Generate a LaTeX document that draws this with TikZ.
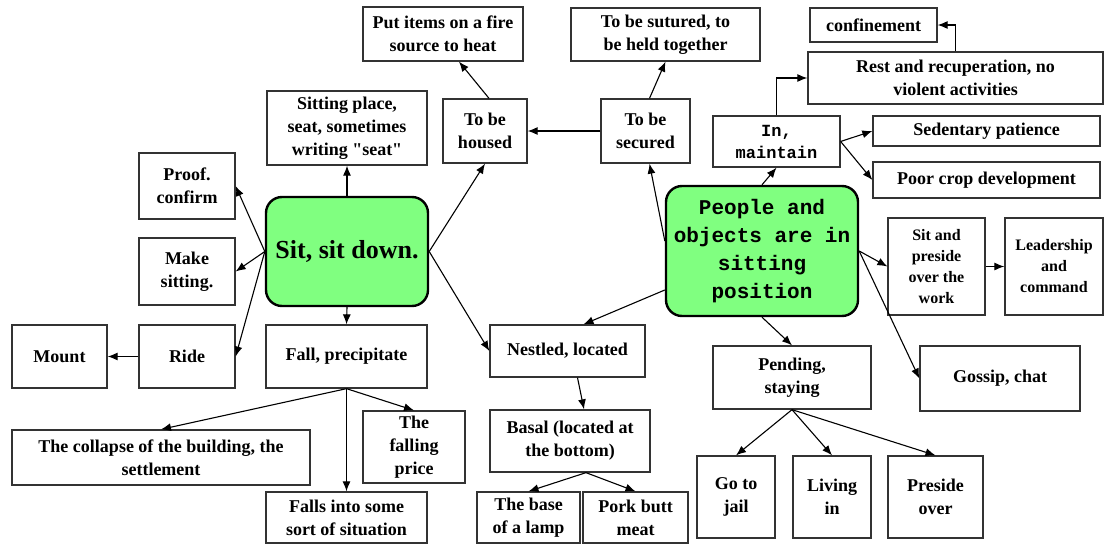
\documentclass[tikz,border=0pt]{standalone}
\usepackage{fontspec}
\setmainfont{Liberation Serif}
\setmonofont{Liberation Mono}
\newfontfamily\plainquote{Liberation Serif}
\usetikzlibrary{arrows.meta}
\definecolor{hubgreen}{HTML}{80FF80}
\tikzset{
  box/.style={draw=black!80, line width=1.3pt, fill=white, inner sep=0pt, align=center,
    font=\bfseries\fontsize{18}{23}\selectfont},
  smallbox/.style={box, font=\bfseries\fontsize{16}{21}\selectfont},
  hub/.style={draw=black, line width=2.4pt, fill=hubgreen, rounded corners=16pt, inner sep=0pt, align=center},
  link/.style={-{Latex[length=10pt,width=8pt]}, line width=1.1pt},
}

\begin{document}
\begin{tikzpicture}[x=1pt, y=-1pt]
			%%%%% START %%%%%
			\useasboundingbox (0, 0) rectangle (1105, 546);
			
			% left hub and its boxes
			\node[hub, minimum width=162pt, minimum height=109pt, font=\bfseries\fontsize{26}{30}\selectfont] (sit) at (347, 251.5) {Sit, sit down.};
			\node[box, minimum width=160pt, minimum height=74pt] (seat) at (347, 128) {Sitting place,\\seat, sometimes\\writing {\plainquote"}seat{\plainquote"}};
			\node[box, minimum width=96pt, minimum height=66pt] (proof) at (187, 186) {Proof.\\confirm};
			\node[box, minimum width=96pt, minimum height=67pt] (make) at (187, 271.5) {Make\\sitting.};
			\node[box, minimum width=96pt, minimum height=63pt] (ride) at (187, 356.5) {Ride};
			\node[box, minimum width=95pt, minimum height=63pt] (mount) at (59.5, 356.5) {Mount};
			\node[box, minimum width=161pt, minimum height=63pt] (fall) at (346.5, 356.5) {Fall, precipitate};
			\node[box, minimum width=298pt, minimum height=55pt] (collapse) at (161, 457.5) {The collapse of the building, the\\settlement};
			\node[box, minimum width=102pt, minimum height=72pt] (price) at (414, 447) {The\\falling\\price};
			\node[box, minimum width=161pt, minimum height=51pt] (falls) at (346.5, 517.5) {Falls into some\\sort of situation};
			\node[box, minimum width=84pt, minimum height=64pt] (housed) at (485, 131) {To be\\housed};
			\node[box, minimum width=160pt, minimum height=54pt] (fire) at (443, 34) {Put items on a fire\\source to heat};
			
			% right hub and its boxes
			\node[hub, minimum width=192pt, minimum height=130pt, font=\ttfamily\bfseries\fontsize{21}{28}\selectfont] (people) at (762, 251) {People and\\objects are in\\sitting\\position};
			\node[box, minimum width=89pt, minimum height=64pt] (secured) at (645.5, 131) {To be\\secured};
			\node[box, minimum width=189pt, minimum height=53pt] (suture) at (665.5, 34.5) {To be sutured, to\\be held together};
			\node[box, minimum width=127pt, minimum height=51pt, font=\ttfamily\bfseries\fontsize{17}{22}\selectfont] (maintain) at (776.5, 141.5) {In,\\maintain};
			\node[box, minimum width=295pt, minimum height=52pt] (rest) at (955.5, 78) {Rest and recuperation, no\\violent activities};
			\node[box, minimum width=127pt, minimum height=34pt] (confine) at (873.5, 25) {confinement};
			\node[box, minimum width=227pt, minimum height=30pt] (sedentary) at (986.5, 131) {Sedentary patience};
			\node[box, minimum width=227pt, minimum height=36pt] (crop) at (986.5, 180) {Poor crop development};
			\node[smallbox, minimum width=97pt, minimum height=97pt] (preside) at (936.5, 266.5) {Sit and\\preside\\over the\\work};
			\node[smallbox, minimum width=98pt, minimum height=97pt] (lead) at (1054, 266.5) {Leadership\\and\\command};
			\node[box, minimum width=160pt, minimum height=65pt] (gossip) at (1000, 378.5) {Gossip, chat};
			\node[box, minimum width=155pt, minimum height=52pt] (nestled) at (567.5, 351) {Nestled, located};
			\node[box, minimum width=160pt, minimum height=62pt] (basal) at (570, 441) {Basal (located at\\the bottom)};
			\node[box, minimum width=103pt, minimum height=51pt] (lamp) at (528.5, 517.5) {The base\\of a lamp};
			\node[box, minimum width=105pt, minimum height=51pt] (pork) at (635.5, 517.5) {Pork butt\\meat};
			\node[box, minimum width=158pt, minimum height=63pt] (pending) at (792, 377.5) {Pending,\\staying};
			\node[box, minimum width=78pt, minimum height=82pt] (jail) at (736, 497) {Go to\\jail};
			\node[box, minimum width=78pt, minimum height=82pt] (living) at (832, 497) {Living\\in};
			\node[box, minimum width=95pt, minimum height=82pt] (presover) at (935.5, 497) {Preside\\over};
			
			% connectors
			\draw[link] (sit.north) -- (seat.south);
			\draw[link] (sit.west) -- (proof.east);
			\draw[link] (sit.west) -- (make.east);
			\draw[link] (sit.west) -- (ride.east);
			\draw[link] (ride.west) -- (mount.east);
			\draw[link] (sit.south) -- (fall.north);
			\draw[link] (fall.south) -- (collapse.north);
			\draw[link] (fall.south) -- (falls.north);
			\draw[link] (fall.south) -- (price.north);
			\draw[link] (sit.east) -- (housed.south);
			\draw[link] (sit.east) -- (nestled.west);
			\draw[link] ([xshift=4pt]housed.north) -- ([xshift=16pt]fire.south);
			\draw[link] (secured.west) -- (housed.east);
			\draw[link] ([xshift=4pt]secured.north) -- (suture.south);
			\draw[link] ([yshift=10pt]people.west) -- ([xshift=4pt]secured.south);
			\draw[link] (people.north) -- (maintain.south);
			\draw[link] (maintain.north) |- (rest.west);
			\draw[link] (rest.north) |- (confine.east);
			\draw[link] (maintain.east) -- (sedentary.west);
			\draw[link] (maintain.east) -- (crop.west);
			\draw[link] (people.east) -- (preside.west);
			\draw[link] (preside.east) -- (lead.west);
			\draw[link] (people.east) -- (gossip.west);
			\draw[link] ([yshift=-39pt]people.west) -- ([xshift=16pt]nestled.north);
			\draw[link] (people.south) -- (pending.north);
			\draw[link] ([xshift=10pt]nestled.south) -- ([xshift=14pt]basal.north);
			\draw[link] ([xshift=16pt]basal.south) -- (lamp.north);
			\draw[link] ([xshift=16pt]basal.south) -- (pork.north);
			\draw[link] (pending.south) -- (jail.north);
			\draw[link] (pending.south) -- (living.north);
			\draw[link] (pending.south) -- (presover.north);
			%%%%% END %%%%%
\end{tikzpicture}
\end{document}
